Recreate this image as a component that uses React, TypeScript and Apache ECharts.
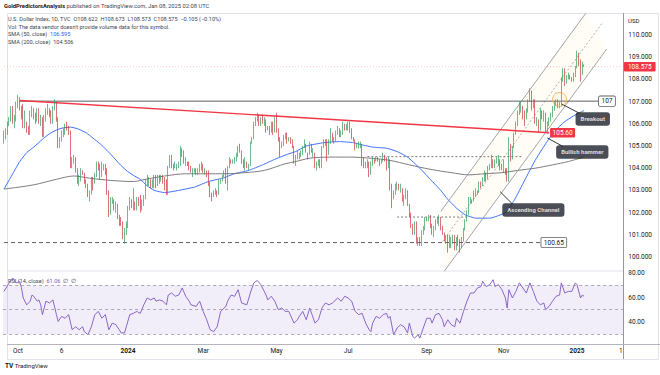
import React, { useEffect, useRef } from "react";
import * as echarts from "echarts";

const CATEGORY_COUNT = 355;
const categories = Array.from({ length: CATEGORY_COUNT }, (_, i) => String(i));

const timeTicks: [number, string][] = [
  [8, "Oct"], [33, "6"], [71, "2024"], [114, "Mar"], [156, "May"],
  [197, "Jul"], [242, "Sep"], [286, "Nov"], [328, "2025"], [353, "1"],
];

// [open, close, low, high]
const ohlc: number[][] = [
  // Sep 2023
  [105.3,105.4,105.1,105.7],[105.4,105.6,105.3,105.8],[105.6,106.0,105.5,106.1],[106.0,106.2,105.9,106.3],[106.2,106.6,106.1,106.8],[106.6,106.1,106.0,106.8],[106.1,106.2,105.8,106.4],
  // Oct 2023
  [106.2,106.9,106.1,107.0],[106.9,107.0,106.7,107.3],[107.0,106.7,106.6,107.2],[106.7,106.3,106.2,106.8],[106.3,106.0,105.8,106.9],[106.0,106.0,105.8,106.6],[106.0,105.8,105.6,106.1],[105.8,105.6,105.5,105.9],[105.6,106.5,105.5,106.6],[106.5,106.6,106.3,106.8],[106.6,106.3,106.2,106.7],[106.3,106.2,106.0,106.5],[106.2,106.6,106.1,106.7],[106.6,106.2,106.0,106.7],[106.2,106.2,105.9,106.4],[106.2,105.5,105.4,106.3],[105.5,106.3,105.4,106.4],[106.3,106.6,106.1,106.7],[106.6,106.6,106.4,106.9],[106.6,106.5,106.3,106.7],[106.5,106.1,106.0,106.6],[106.1,106.7,106.0,106.8],
  // Nov 2023
  [106.7,106.9,106.6,107.1],[106.9,106.2,106.1,107.0],[106.2,105.0,104.9,106.3],[105.0,105.3,104.9,105.4],[105.3,105.6,105.2,105.7],[105.6,105.6,105.4,105.8],[105.6,105.9,105.5,106.0],[105.9,105.8,105.7,106.1],[105.8,105.6,105.5,105.9],[105.6,104.1,104.0,105.7],[104.1,104.4,104.0,104.5],[104.4,104.4,104.2,104.6],[104.4,103.9,103.8,104.5],[103.9,103.4,103.3,104.0],[103.4,103.5,103.2,103.7],[103.5,103.9,103.4,104.0],[103.9,103.8,103.7,103.9],[103.8,103.4,103.3,103.8],[103.4,103.2,103.1,103.5],[103.2,102.8,102.7,103.3],[102.8,102.8,102.5,103.0],[102.8,103.5,102.8,103.6],
  // Dec 2023
  [103.5,103.3,103.0,103.6],[103.3,103.7,103.3,103.8],[103.7,104.2,103.6,104.3],[104.2,104.1,103.9,104.3],[104.1,103.6,103.5,104.2],[103.6,104.0,103.6,104.3],[104.0,104.1,103.9,104.2],[104.1,103.9,103.7,104.2],[103.9,102.9,102.8,104.0],[102.9,102.0,101.8,103.0],[102.0,102.6,101.9,102.7],[102.6,102.6,102.4,102.7],[102.6,102.2,102.1,102.6],[102.2,102.4,102.0,102.5],[102.4,101.8,101.7,102.4],[101.8,101.7,101.4,101.9],[101.7,101.5,101.4,101.8],[101.5,101.0,100.8,101.6],[101.0,101.2,100.6,101.3],[101.2,101.3,101.0,101.6],
  // Jan 2024
  [101.3,102.2,101.3,102.3],[102.2,102.5,102.1,102.7],[102.5,102.4,102.2,102.6],[102.4,102.4,102.1,103.1],[102.4,102.2,102.1,102.5],[102.2,102.6,102.1,102.7],[102.6,102.4,102.3,102.7],[102.4,102.3,102.0,102.8],[102.3,102.4,102.1,102.6],[102.4,102.6,102.3,102.8],[102.6,103.4,102.6,103.5],[103.4,103.4,103.2,103.7],[103.4,103.4,103.2,103.6],[103.4,103.3,103.1,103.5],[103.3,103.3,103.1,103.5],[103.3,103.6,103.1,103.7],[103.6,103.2,103.1,103.7],[103.2,103.6,103.2,103.7],[103.6,103.4,103.3,103.7],[103.4,103.6,103.4,103.7],[103.6,103.4,103.3,103.7],[103.4,103.3,103.0,103.6],
  // Feb 2024
  [103.3,103.0,102.8,103.5],[103.0,104.0,102.8,104.1],[104.0,104.5,104.0,104.6],[104.5,104.1,104.0,104.6],[104.1,104.0,103.9,104.2],[104.0,104.1,104.0,104.3],[104.1,104.1,103.9,104.2],[104.1,104.2,104.0,104.3],[104.2,104.9,104.1,105.0],[104.9,104.7,104.5,104.9],[104.7,104.3,104.2,104.8],[104.3,104.3,104.1,104.5],[104.3,104.2,104.1,104.3],[104.2,104.0,103.9,104.3],[104.0,103.9,103.8,104.1],[103.9,103.9,103.6,104.0],[103.9,103.9,103.8,104.0],[103.9,103.8,103.7,104.0],[103.8,103.8,103.7,104.0],[103.8,104.1,103.8,104.2],[104.1,104.1,103.9,104.3],
  // Mar 2024
  [104.1,103.9,103.8,104.2],[103.9,103.9,103.7,104.0],[103.9,103.8,103.6,103.9],[103.8,103.3,103.2,103.9],[103.3,102.8,102.7,103.4],[102.8,102.7,102.5,102.9],[102.7,102.9,102.7,103.0],[102.9,103.0,102.8,103.1],[103.0,102.8,102.7,103.0],[102.8,103.4,102.8,103.5],[103.4,103.4,103.3,103.5],[103.4,103.6,103.4,103.7],[103.6,103.8,103.6,103.9],[103.8,103.4,103.3,104.0],[103.4,104.0,103.0,104.1],[104.0,104.4,104.0,104.5],[104.4,104.3,104.2,104.4],[104.3,104.3,104.2,104.4],[104.3,104.3,104.2,104.5],[104.3,104.5,104.3,104.7],
  // Apr 2024
  [104.5,105.0,104.5,105.0],[105.0,104.8,104.7,105.1],[104.8,104.3,104.2,104.8],[104.3,104.1,104.0,104.4],[104.1,104.3,103.9,104.5],[104.3,104.1,104.0,104.3],[104.1,104.1,103.9,104.2],[104.1,105.2,104.1,105.2],[105.2,105.3,105.1,105.4],[105.3,106.0,105.3,106.1],[106.0,106.2,105.9,106.3],[106.2,106.3,106.1,106.5],[106.3,106.0,105.9,106.4],[106.0,106.2,105.9,106.3],[106.2,106.1,106.0,106.4],[106.1,106.1,105.9,106.3],[106.1,105.7,105.6,106.2],[105.7,105.8,105.7,105.9],[105.8,105.6,105.5,105.9],[105.6,106.1,105.6,106.1],[106.1,105.6,105.5,106.1],[105.6,106.2,105.6,106.3],
  // May 2024
  [106.2,105.7,105.6,106.5],[105.7,105.3,105.2,105.8],[105.3,105.0,104.5,105.4],[105.0,105.1,104.9,105.2],[105.1,105.4,105.0,105.5],[105.4,105.5,105.3,105.6],[105.5,105.2,105.1,105.6],[105.2,105.3,105.2,105.4],[105.3,105.2,105.1,105.4],[105.2,105.0,104.9,105.3],[105.0,104.3,104.2,105.0],[104.3,104.5,104.1,104.6],[104.5,104.5,104.4,104.8],[104.5,104.6,104.4,104.7],[104.6,104.6,104.5,104.8],[104.6,104.9,104.6,105.0],[104.9,105.1,104.9,105.3],[105.1,104.7,104.7,105.1],[104.7,104.6,104.4,104.7],[104.6,105.1,104.6,105.2],[105.1,104.7,104.7,105.1],[104.7,104.7,104.5,104.9],
  // Jun 2024
  [104.7,104.1,104.0,104.7],[104.1,104.2,103.9,104.3],[104.2,104.3,104.1,104.4],[104.3,104.1,104.0,104.4],[104.1,104.9,104.0,105.0],[104.9,105.2,104.9,105.3],[105.2,105.2,105.0,105.3],[105.2,104.7,104.3,105.3],[104.7,105.2,104.6,105.3],[105.2,105.6,105.1,105.8],[105.6,105.3,105.2,105.6],[105.3,105.3,105.1,105.4],[105.3,105.6,105.2,105.7],[105.6,105.8,105.5,105.9],[105.8,105.5,105.4,105.8],[105.5,105.6,105.4,105.7],[105.6,106.0,105.5,106.1],[106.0,105.9,105.7,106.0],[105.9,105.9,105.7,106.0],
  // Jul 2024
  [105.9,105.9,105.7,106.1],[105.9,105.7,105.6,106.1],[105.7,105.4,105.3,105.8],[105.4,105.3,105.2,105.4],[105.3,104.9,104.8,105.3],[104.9,105.0,104.9,105.1],[105.0,105.1,104.9,105.2],[105.1,105.1,104.9,105.2],[105.1,104.4,104.1,105.1],[104.4,104.1,104.0,104.5],[104.1,104.2,104.0,104.3],[104.2,104.3,104.0,104.4],[104.3,103.8,103.6,104.3],[103.8,104.2,103.7,104.3],[104.2,104.4,104.1,104.5],[104.4,104.3,104.2,104.4],[104.3,104.5,104.3,104.5],[104.5,104.4,104.3,104.5],[104.4,104.3,104.1,104.4],[104.3,104.3,104.2,104.4],[104.3,104.6,104.3,104.7],[104.6,104.4,104.3,104.6],[104.4,104.1,103.9,104.5],
  // Aug 2024
  [104.1,104.4,104.0,104.5],[104.4,103.2,103.0,104.4],[103.2,102.7,102.2,103.3],[102.7,102.9,102.6,103.0],[102.9,103.2,102.8,103.3],[103.2,103.2,103.0,103.4],[103.2,103.1,103.0,103.3],[103.1,103.1,102.9,103.3],[103.1,102.6,102.5,103.1],[102.6,102.6,102.3,102.8],[102.6,103.0,102.6,103.1],[103.0,102.4,102.3,103.0],[102.4,101.9,101.8,102.4],[101.9,101.4,101.3,102.0],[101.4,101.1,101.0,101.5],[101.1,101.5,101.0,101.6],[101.5,100.7,100.6,101.6],[100.7,100.8,100.5,100.9],[100.8,100.5,100.5,100.9],[100.5,101.1,100.5,101.2],[101.1,101.3,101.0,101.4],[101.3,101.7,101.2,101.8],
  // Sep 2024
  [101.7,101.7,101.6,101.8],[101.7,101.8,101.6,101.9],[101.8,101.4,101.3,101.9],[101.4,101.1,101.0,101.5],[101.1,101.2,100.9,101.4],[101.2,101.6,101.2,101.7],[101.6,101.6,101.5,101.8],[101.6,101.7,101.4,101.9],[101.7,101.3,101.2,101.8],[101.3,101.1,101.0,101.4],[101.1,100.8,100.7,101.1],[100.8,100.9,100.6,101.0],[100.9,100.6,100.2,101.0],[100.6,100.6,100.4,101.0],[100.6,100.7,100.4,100.9],[100.7,100.9,100.6,101.0],[100.9,100.4,100.3,101.0],[100.4,100.9,100.3,100.9],[100.9,100.6,100.5,101.0],[100.6,100.4,100.2,100.8],[100.4,100.8,100.4,100.9],
  // Oct 2024
  [100.8,101.2,100.7,101.3],[101.2,101.7,101.2,101.7],[101.7,102.0,101.6,102.1],[102.0,102.5,101.9,102.7],[102.5,102.5,102.4,102.7],[102.5,102.5,102.4,102.6],[102.5,102.9,102.5,103.0],[102.9,102.9,102.7,103.1],[102.9,102.9,102.8,103.0],[102.9,103.3,102.9,103.4],[103.3,103.2,103.1,103.4],[103.2,103.5,103.2,103.6],[103.5,103.8,103.4,103.9],[103.8,103.5,103.4,103.8],[103.5,104.0,103.5,104.1],[104.0,104.1,103.9,104.2],[104.1,104.4,104.0,104.6],[104.4,104.1,104.0,104.4],[104.1,104.3,104.0,104.4],[104.3,104.3,104.2,104.5],[104.3,104.3,104.1,104.6],[104.3,104.1,103.9,104.4],[104.1,104.0,103.9,104.2],
  // Nov 2024
  [104.0,104.3,103.8,104.4],[104.3,103.9,103.7,104.0],[103.9,103.4,103.4,104.0],[103.4,105.1,103.4,105.4],[105.1,104.4,104.3,105.1],[104.4,104.9,104.4,105.0],[104.9,105.5,104.9,105.6],[105.5,106.0,105.5,106.1],[106.0,106.5,105.9,106.6],[106.5,106.7,106.4,107.0],[106.7,106.7,106.5,107.0],[106.7,106.3,106.2,106.8],[106.3,106.2,105.9,106.6],[106.2,106.6,106.2,106.7],[106.6,107.0,106.5,107.1],[107.0,107.4,107.0,107.6],[107.4,106.9,106.6,107.5],[106.9,107.0,106.7,107.1],[107.0,106.1,106.0,107.1],[106.1,106.1,105.9,106.3],[106.1,105.7,105.6,106.2],
  // Dec 2024
  [105.7,106.5,105.7,106.7],[106.5,106.4,106.2,106.6],[106.4,106.4,106.1,106.6],[106.4,105.7,105.6,106.5],[105.7,106.0,105.55,106.1],[106.0,106.2,105.9,106.3],[106.2,106.4,106.1,106.5],[106.4,106.7,106.3,106.8],[106.7,106.9,106.6,107.0],[106.9,107.0,106.8,107.1],[107.0,106.8,106.7,107.1],[106.8,106.9,106.7,107.0],[106.9,108.0,106.8,108.1],[108.0,108.4,107.9,108.5],[108.4,107.8,107.7,108.5],[107.8,108.0,107.8,108.2],[108.0,108.2,108.0,108.3],[108.2,108.1,108.0,108.2],[108.1,108.0,107.9,108.1],[108.0,108.1,107.9,108.3],[108.1,108.5,108.1,108.6],
  // Jan 2025
  [108.5,109.1,108.5,109.3],[109.1,108.9,108.6,109.2],[108.9,108.3,107.9,108.9],[108.3,108.7,108.2,108.8],[108.622,108.575,108.573,108.673],
];

const sma50: [number, number][] = [
  [0,103.06],[5,103.75],[9,104.3],[13,104.7],[17,104.95],[22,105.3],[26,105.55],[30,105.72],[34,105.82],[38,105.85],[42,105.78],[47,105.6],[51,105.35],[55,105.1],[59,104.8],[62,104.55],[66,104.2],[70,103.9],[74,103.68],[78,103.5],[82,103.2],[86,103.0],[92,102.9],[100,103.0],[109,103.15],[117,103.4],[125,103.55],[132,103.75],[140,103.9],[148,104.15],[155,104.4],[163,104.65],[167,104.75],[173,105.0],[183,105.15],[192,105.2],[200,105.15],[205,105.05],[211,104.95],[219,104.9],[225,104.75],[231,104.5],[238,104.0],[244,103.5],[250,103.0],[254,102.6],[259,102.2],[264,101.9],[270,101.75],[278,101.75],[287,102.0],[292,102.55],[298,103.45],[304,104.35],[310,105.1],[315,105.65],[321,106.1],[327,106.4],[332,106.595],
];

const sma200: [number, number][] = [
  [0,103.06],[17,103.25],[30,103.5],[40,103.65],[49,103.55],[61,103.45],[74,103.4],[81,103.5],[92,103.65],[104,103.75],[115,103.75],[127,103.75],[138,103.8],[149,103.9],[161,104.2],[167,104.3],[175,104.45],[187,104.5],[198,104.5],[210,104.45],[221,104.35],[232,104.15],[244,103.95],[256,103.8],[266,103.7],[275,103.75],[285,103.8],[294,103.9],[304,104.0],[314,104.15],[323,104.3],[332,104.506],
];

const rsi14: [number, number][] = [
  [0,65],[3,72],[5,76],[7,72],[9,73],[10,68],[11,59.6],[13,54],[15,57],[16,62],[17,61],[19,57],[20,58],[21,54],[22,46],[24,57],[26,55.5],[28,58],[30,46],[31,40.4],[33,44.5],[35,43],[37,46],[39,33.6],[41,36],[43,33.6],[45,36],[46,32],[48,29.5],[50,36],[52,46],[54,48.6],[56,43],[58,46],[60,33.6],[62,39],[64,37.7],[66,33.6],[67,31],[69,31],[70,36],[72,46],[74,47],[76,48.6],[78,47],[80,54],[82,59.6],[84,58],[86,59.6],[87,57],[89,58],[91,57],[93,54],[94,62],[96,63.7],[98,61],[100,62],[102,67.8],[104,61],[106,57],[107,54],[110,52.7],[112,57],[114,48.6],[116,41.8],[118,33.6],[120,32],[122,36],[124,48.6],[127,52.7],[128,57],[130,62],[132,61],[134,66.4],[136,55.5],[139,54],[141,63.7],[143,72],[145,74],[147,70.5],[148,67.8],[150,62],[151,58],[153,61],[155,57],[157,50],[159,51.4],[161,48.6],[163,48.6],[166,39],[168,41.8],[169,44.5],[171,48.6],[173,41.8],[175,51.4],[178,39],[180,41.8],[182,51.4],[184,55.5],[186,54],
  [188,55.5],[191,59.6],[193,57],[195,61],[197,59.6],[199,57],[201,48.6],[203,46],[205,47],[207,39],[209,33.6],[210,32],[211,39],[213,44.5],[215,43],[217,46],[219,47],[220,43],[221,44.5],[223,29.5],[225,35],[227,37.7],[229,36],[231,31],[232,39],[234,28],[235,26.7],[237,29.5],[238,26.7],[240,35],[242,43],[244,43],[245,39],[247,46],[249,47],[251,41.8],[252,36],[254,41.8],[256,37.7],[258,36],[259,43],[261,39],[263,48.6],[265,57],[267,63.7],[269,63.7],[271,67.8],[273,69],[274,73.3],[276,69],[278,70.5],[280,74.6],[281,69],[283,70.5],[285,66.4],[287,59.6],[288,51.4],[289,66.4],[291,59.6],[293,65],[295,72],[297,67.8],[299,63.7],[301,72],[303,65],[305,57],[307,54],[309,55.5],[310,50],[312,52.7],[314,57],[316,61],[318,62],[319,72],[321,63.7],[323,65],[325,65],[327,72],[328,70.5],[330,59.6],[331,62],[332,61.06],
];

// drawn levels, in [bar index, price]
const resistance107: [number, number][] = [[9, 107.02], [340, 107.02]];
const redTrend: [number, number][] = [[9, 107.05], [312, 105.6]];
const support10065: [number, number][] = [[0, 100.65], [307, 100.65]];
const dottedUpper: [number, number][] = [[208, 104.52], [297, 104.52]];
const dottedLower: [number, number][] = [[225, 101.8], [266, 101.8]];
const channelLower: [number, number][] = [[252, 99.36], [345, 109.37]];
const channelMid: [number, number][] = [[251, 100.7], [343, 110.6]];
const channelUpper: [number, number][] = [[250, 102.05], [333, 110.98]];
const lastPrice: [number, number][] = [[0, 108.575], [354, 108.575]];

const callouts = [
  { at: [337, 106.22], text: "Breakout" },
  { at: [331, 104.73], text: "Bullish hammer" },
  { at: [303, 102.12], text: "Ascending Channel" },
];
const pointerBreakout: [number, number][] = [[319, 106.9], [329, 106.49]];
const pointerHammer: [number, number][] = [[311, 105.36], [320, 104.98]];
const pointerChannel: [number, number][] = [[284, 102.94], [291, 102.39]];
const breakoutMark: [number, number] = [318, 107.1];

const FONT = "Roboto, 'Noto Sans', sans-serif";

export default function App() {
  const ref = useRef<HTMLDivElement>(null);
  useEffect(() => {
    if (!ref.current) return;
    const chart = echarts.init(ref.current, undefined, { renderer: "svg" });
    const tickMap = new Map<number, string>(timeTicks);

    const plainLine = (data: any, color: string, width: number, type: any = "solid", extra: any = {}) => ({
      type: "line",
      xAxisIndex: 0,
      yAxisIndex: 0,
      data,
      showSymbol: false,
      symbol: "none",
      silent: true,
      lineStyle: { color, width, type },
      z: 3,
      ...extra,
    });

    const boxLabel = (text: string, bg: string, fg: string, border?: string) => ({
      show: true,
      formatter: () => text,
      distance: 1,
      fontSize: 6.5,
      fontFamily: FONT,
      color: fg,
      backgroundColor: bg,
      borderColor: border || bg,
      borderWidth: border ? 0.8 : 0,
      borderRadius: 1,
      padding: [1.5, 2.5, 1, 2.5],
    });

    const option: any = {
      animation: false,
      backgroundColor: "#ffffff",
      textStyle: { fontFamily: FONT },
      grid: [
        { left: 3.13, top: 12.8, width: 620.2, height: 266.4 },
        { left: 3.13, top: 270.66, width: 620.2, height: 75.64 },
      ],
      xAxis: [
        {
          type: "category", gridIndex: 0, data: categories, boundaryGap: true,
          axisLine: { show: false }, axisTick: { show: false }, axisLabel: { show: false }, splitLine: { show: false },
        },
        {
          type: "category", gridIndex: 1, data: categories, boundaryGap: true,
          axisLine: { show: false }, axisTick: { show: false }, splitLine: { show: false },
          axisLabel: {
            interval: (i: number) => tickMap.has(i),
            formatter: (_v: string, i: number) => {
              const t = tickMap.get(i) || "";
              return t === "2024" || t === "2025" ? "{y|" + t + "}" : t;
            },
            rich: { y: { fontWeight: "bold", fontSize: 6.5, color: "#131722", fontFamily: FONT } },
            fontSize: 6.5, color: "#131722", margin: 1.5, fontFamily: FONT,
          },
        },
      ],
      yAxis: [
        {
          type: "value", gridIndex: 0, position: "right", min: 99, max: 111, interval: 1,
          axisLine: { show: false }, axisTick: { show: false }, splitLine: { show: false },
          axisLabel: {
            formatter: (v: number) => (v === 99 || v === 111 ? "" : v.toFixed(3)),
            fontSize: 6.5, color: "#131722", margin: 5, fontFamily: FONT,
          },
        },
        {
          type: "value", gridIndex: 1, position: "right", min: 20, max: 82, interval: 20,
          axisLine: { show: false }, axisTick: { show: false }, splitLine: { show: false },
          axisLabel: {
            formatter: (v: number) => (v === 40 || v === 60 || v === 80 ? v.toFixed(2) : ""),
            fontSize: 6.5, color: "#131722", margin: 5, fontFamily: FONT,
          },
        },
      ],
      series: [
        {
          type: "custom",
          xAxisIndex: 0, yAxisIndex: 0,
          silent: true,
          z: 1,
          data: [[0, 0]],
          renderItem: (_p: any, api: any) => {
            const poly = [channelLower[0], channelLower[1], channelUpper[1], channelUpper[0]];
            const pts = poly.map((p) => api.coord(p));
            return { type: "polygon", shape: { points: pts }, style: { fill: "rgba(255, 238, 170, 0.12)" } };
          },
        },
        {
          type: "candlestick",
          xAxisIndex: 0, yAxisIndex: 0,
          data: ohlc,
          barWidth: 1.1,
          z: 4,
          itemStyle: {
            color: "#2f9e5b", color0: "#d0343d",
            borderColor: "#2f9e5b", borderColor0: "#d0343d", borderWidth: 0.7,
          },
        },
        plainLine(sma50, "#2962ff", 0.9, "solid", { smooth: 0.15 }),
        plainLine(sma200, "#6e6f74", 0.9, "solid", { smooth: 0.3 }),
        plainLine(channelLower, "#8a8d96", 0.8),
        plainLine(channelUpper, "#8a8d96", 0.8),
        plainLine(channelMid, "#9a9da6", 0.8, [2, 2]),
        plainLine(dottedUpper, "#6e6f74", 0.9, [2, 2]),
        plainLine(dottedLower, "#6e6f74", 0.9, [2, 2]),
        plainLine(resistance107, "#5d5f66", 1, "solid", { endLabel: boxLabel("107", "#ffffff", "#131722", "#5d5f66") }),
        plainLine(support10065, "#5d5f66", 1, [4, 3], { endLabel: boxLabel("100.65", "#ffffff", "#131722", "#5d5f66") }),
        plainLine(redTrend, "#f23645", 1.4, "solid", { endLabel: boxLabel("105.60", "#f23645", "#ffffff") }),
        plainLine(lastPrice, "rgba(242,54,69,0.35)", 0.8, [1, 2], {
          z: 2,
          endLabel: { ...boxLabel("108.575", "#f23645", "#ffffff"), padding: [1.5, 4, 1, 4], distance: 1.5 },
        }),
        plainLine(pointerBreakout, "#1e222d", 0.9),
        plainLine(pointerHammer, "#1e222d", 0.9),
        plainLine(pointerChannel, "#1e222d", 0.9),
        {
          type: "scatter", xAxisIndex: 0, yAxisIndex: 0, silent: true, z: 6,
          data: [breakoutMark],
          symbol: "circle", symbolSize: 14,
          itemStyle: { color: "rgba(255,200,120,0.12)", borderColor: "#f7a440", borderWidth: 0.9 },
        },
        {
          type: "scatter", xAxisIndex: 0, yAxisIndex: 0, silent: true, z: 7,
          symbolSize: 2, itemStyle: { color: "rgba(0,0,0,0)" },
          data: callouts.map((c) => ({
            value: c.at,
            label: {
              show: true, position: "inside", formatter: () => c.text,
              color: "#ffffff", fontSize: 6, fontWeight: "bold", fontFamily: FONT,
              backgroundColor: "#1e222d", borderRadius: 3, padding: [4, 5, 3.5, 5],
            },
          })),
        },
        {
          type: "line", xAxisIndex: 1, yAxisIndex: 1, data: rsi14,
          showSymbol: false, symbol: "none", silent: true,
          lineStyle: { color: "#7e57c2", width: 0.9 },
          markArea: {
            silent: true,
            itemStyle: { color: "rgba(126,87,194,0.1)" },
            data: [[{ yAxis: 30 }, { yAxis: 70 }]],
          },
          markLine: {
            silent: true, symbol: "none", label: { show: false },
            lineStyle: { color: "#9a92b0", width: 0.8, type: [3, 3] },
            data: [{ yAxis: 70 }, { yAxis: 50 }, { yAxis: 30 }],
          },
        },
      ],
      graphic: [
        { type: "rect", silent: true, shape: { x: 7.5, y: 13.5, width: 651, height: 346 }, style: { fill: "none", stroke: "#e0e3eb", lineWidth: 1 }, z: 0 },
        { type: "line", silent: true, shape: { x1: 623.5, y1: 13, x2: 623.5, y2: 359 }, style: { stroke: "#9598a1", lineWidth: 1 } },
        { type: "line", silent: true, shape: { x1: 7, y1: 271, x2: 623, y2: 271 }, style: { stroke: "#e0e3eb", lineWidth: 1 } },
        { type: "line", silent: true, shape: { x1: 7, y1: 344.5, x2: 660, y2: 344.5 }, style: { stroke: "#b2b5be", lineWidth: 1 } },
        {
          type: "text", left: 4, top: 3,
          style: {
            text: "{b|GoldPredictorsAnalysis} published on TradingView.com, Jan 08, 2025 02:08 UTC",
            fontSize: 5.8, fill: "#434651", fontFamily: FONT,
            rich: { b: { fontWeight: "bold", fontSize: 5.8, fill: "#131722", fontFamily: FONT } },
          },
        },
        { type: "text", left: 8, top: 16.3, style: { text: "U.S. Dollar Index, 1D, TVC  O108.622  H108.673  L108.573  C108.575  \u22120.105 (\u22120.10%)", fontSize: 5.6, fill: "#434651", fontFamily: FONT } },
        { type: "text", left: 8, top: 23.8, style: { text: "Vol: The data vendor doesn't provide volume data for this symbol.", fontSize: 5.6, fill: "#434651", fontFamily: FONT } },
        {
          type: "text", left: 8, top: 31.4,
          style: {
            text: "SMA (50, close)  {v|106.595}", fontSize: 5.6, fill: "#434651", fontFamily: FONT,
            rich: { v: { fill: "#2962ff", fontSize: 5.6, fontFamily: FONT } },
          },
        },
        { type: "text", left: 8, top: 39.2, style: { text: "SMA (200, close)  104.506", fontSize: 5.6, fill: "#434651", fontFamily: FONT } },
        { type: "text", left: 628, top: 17, style: { text: "USD", fontSize: 6, fill: "#131722", fontFamily: FONT } },
        {
          type: "text", left: 8, top: 277.5,
          style: {
            text: "RSI (14, close)  {v|61.06}  \u2205  \u2205", fontSize: 5.6, fill: "#434651", fontFamily: FONT,
            rich: { v: { fill: "#7e57c2", fontSize: 5.6, fontFamily: FONT } },
          },
        },
        {
          type: "text", left: 5, top: 362,
          style: {
            text: "{t|TV} TradingView", fontSize: 6, fill: "#131722", fontFamily: FONT,
            rich: { t: { fontWeight: "bold", fontSize: 6.5, fill: "#131722", fontFamily: FONT } },
          },
        },
      ],
    };

    chart.setOption(option);
    return () => chart.dispose();
  }, []);

  return (
    <div
      ref={ref}
      style={{ position: "fixed", left: 0, top: 0, width: 660, height: 375, background: "#fff" }}
    />
  );
}
